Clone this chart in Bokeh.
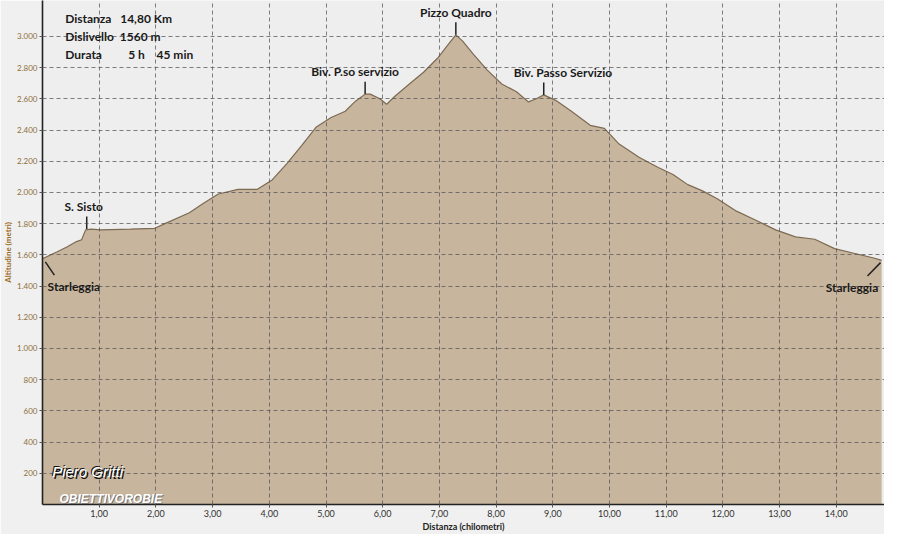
from bokeh.plotting import figure
from bokeh.models import Range1d, FixedTicker, Label
from bokeh.embed import file_html
from bokeh.resources import INLINE

# ---- data ----
km = [0.00, 0.26, 0.43, 0.60, 0.69, 0.76, 0.86, 1.03, 1.55, 1.98, 2.16, 2.59, 2.84,
      3.10, 3.45, 3.79, 4.05, 4.31, 4.57, 4.83, 5.09, 5.34, 5.52, 5.69, 5.78, 5.95,
      6.07, 6.21, 6.47, 6.72, 6.98, 7.16, 7.29, 7.41, 7.59, 7.84, 8.10, 8.36, 8.57,
      8.71, 8.84, 9.05, 9.31, 9.66, 9.91, 10.17, 10.52, 10.86, 11.12, 11.38, 11.64,
      11.90, 12.24, 12.59, 12.93, 13.28, 13.62, 13.97, 14.31, 14.66, 14.80]
elev = [1575, 1620, 1650, 1685, 1697, 1760, 1765, 1760, 1765, 1770, 1800, 1870, 1930,
        1990, 2020, 2020, 2080, 2185, 2300, 2420, 2480, 2520, 2585, 2630, 2630, 2600,
        2565, 2615, 2695, 2770, 2865, 2950, 3010, 2970, 2890, 2785, 2695, 2645, 2580,
        2600, 2625, 2590, 2525, 2430, 2410, 2310, 2225, 2160, 2115, 2050, 2010,
        1960, 1880, 1820, 1760, 1715, 1700, 1640, 1610, 1580, 1565]

x_ticks = [1, 2, 3, 4, 5, 6, 7, 8, 9, 10, 11, 12, 13, 14]
y_ticks = [200, 400, 600, 800, 1000, 1200, 1400, 1600, 1800, 2000, 2200, 2400, 2600, 2800, 3000]

peak_names = ["S. Sisto", "Biv. P.so servizio", "Pizzo Quadro", "Biv. Passo Servizio"]
peak_km = [0.78, 5.69, 7.29, 8.84]
peak_elev = [1765, 2630, 3010, 2625]

end_names = ["Starleggia", "Starleggia"]
end_km = [0.00, 14.80]
end_elev = [1570, 1565]

NB = "\u00a0"
info_lines = ["Distanza" + NB * 3 + "14,80 Km",
              "Dislivello" + NB * 2 + "1560 m",
              "Durata" + NB * 9 + "5 h" + NB * 4 + "45 min"]

# ---- figure ----
p = figure(width=884, height=534, output_backend="svg", toolbar_location=None,
           x_range=Range1d(0, 14.85), y_range=Range1d(0, 3230),
           min_border_left=0, min_border_right=0, min_border_top=0, min_border_bottom=0)
p.background_fill_color = "#eeeeee"
p.border_fill_color = "#f0f0f0"
p.outline_line_color = None

p.varea(x=km, y1=0, y2=elev, fill_color="#c7b59e")
p.line(km, elev, line_color="#7d6a52", line_width=1.2)

# grid / ticks
p.xaxis.ticker = FixedTicker(ticks=x_ticks)
p.yaxis.ticker = FixedTicker(ticks=y_ticks)
p.xaxis.major_label_overrides = {t: f"{t},00" for t in x_ticks}
p.yaxis.major_label_overrides = {t: (f"{t:,}".replace(",", ".")) for t in y_ticks}
for g in (p.xgrid, p.ygrid):
    g.grid_line_color = "#555555"
    g.grid_line_alpha = 0.75
    g.grid_line_dash = "4 3"
    g.grid_line_width = 1
    g.level = "guide"

for ax in (p.xaxis, p.yaxis):
    ax.axis_line_color = "#222222"
    ax.axis_line_width = 1.6
    ax.minor_tick_line_color = None
    ax.major_tick_in = 0
    ax.major_tick_out = 3
    ax.major_tick_line_color = "#555555"
    ax.major_label_standoff = 2
    ax.axis_label_standoff = 1
    ax.major_label_text_font = "Lato"
    ax.axis_label_text_font = "Lato"
    ax.axis_label_text_font_style = "bold"

p.xaxis.major_label_text_font_size = "9px"
p.xaxis.major_label_text_color = "#333333"
p.xaxis.axis_label = "Distanza (chilometri)"
p.xaxis.axis_label_text_font_size = "9px"
p.xaxis.axis_label_text_color = "#222222"

p.yaxis.major_label_text_font_size = "8px"
p.yaxis.major_label_text_color = "#8d6f3a"
p.yaxis.axis_label = "Altitudine (metri)"
p.yaxis.axis_label_text_font_size = "8px"
p.yaxis.axis_label_text_color = "#9a6a22"

FONT = "Lato"
FS = "12px"

# peak annotations with leader lines
peak_style = [("center", -3), ("center", -10), ("center", 0), ("left", -30)]
for name, x, y, (align, dx) in zip(peak_names, peak_km, peak_elev, peak_style):
    p.segment(x0=[x], y0=[y], x1=[x], y1=[y + 80], line_color="#222222", line_width=1.5)
    p.add_layout(Label(x=x, y=y, x_offset=dx, y_offset=15, text=name,
                       text_align=align, text_baseline="bottom",
                       text_font=FONT, text_font_style="bold", text_font_size=FS,
                       text_color="#1a1a1a"))

# endpoints (Starleggia)
p.segment(x0=[end_km[0] + 0.05], y0=[end_elev[0] - 15], x1=[end_km[0] + 0.21], y1=[end_elev[0] - 100],
          line_color="#222222", line_width=1.5)
p.segment(x0=[end_km[1] - 0.02], y0=[end_elev[1] - 15], x1=[end_km[1] - 0.25], y1=[end_elev[1] - 100],
          line_color="#222222", line_width=1.5)
p.add_layout(Label(x=end_km[0] + 0.09, y=end_elev[0] - 175, text=end_names[0],
                   text_align="left", text_baseline="middle", text_font=FONT,
                   text_font_style="bold", text_font_size=FS, text_color="#1a1a1a"))
p.add_layout(Label(x=end_km[1] - 0.06, y=end_elev[1] - 175, text=end_names[1],
                   text_align="right", text_baseline="middle", text_font=FONT,
                   text_font_style="bold", text_font_size=FS, text_color="#1a1a1a"))

# info block
for i, line in enumerate(info_lines):
    p.add_layout(Label(x=0.40, y=3115 - i * 117, text=line, text_align="left",
                       text_baseline="middle", text_font=FONT, text_font_style="bold",
                       text_font_size=FS, text_color="#1a1a1a"))

# author credits (white text with dark shadow)
for dx, dy, col in [(1.5, -1.5, "#111111"), (-1, 1, "#111111"), (0, 0, "white")]:
    p.add_layout(Label(x=0.17, y=210, x_offset=dx, y_offset=dy, text="Piero Gritti",
                       text_align="left", text_baseline="middle",
                       text_font="Liberation Sans", text_font_style="italic",
                       text_font_size="15px", text_color=col))
for dx, dy, col in [(1, -1, "#777777"), (0, 0, "white")]:
    p.add_layout(Label(x=0.30, y=35, x_offset=dx, y_offset=dy, text="OBIETTIVOROBIE",
                       text_align="left", text_baseline="middle",
                       text_font="Liberation Sans", text_font_style="bold italic",
                       text_font_size="12px", text_color=col))

open("out.html", "w").write(file_html(p, INLINE))
